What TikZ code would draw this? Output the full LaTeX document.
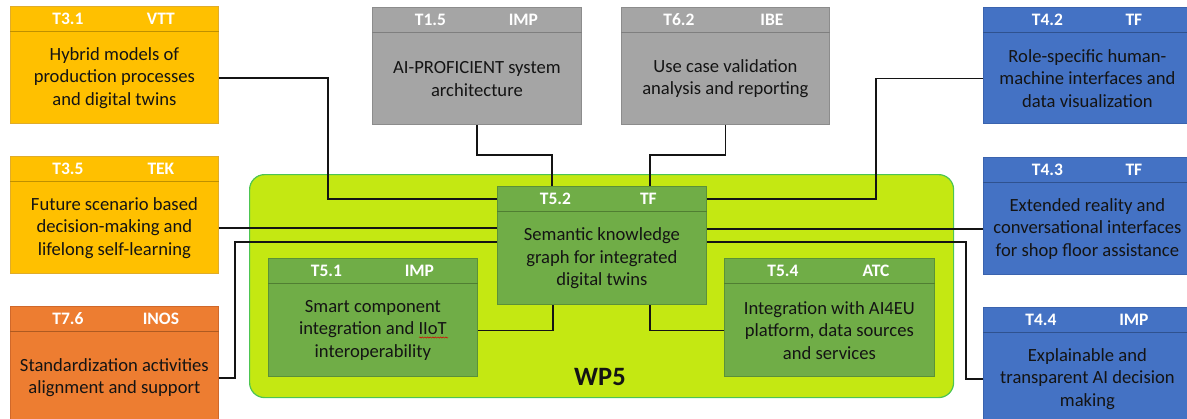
\documentclass[tikz,border=0pt]{standalone}
\usepackage{fontspec}
\setmainfont{Carlito}
\usetikzlibrary{decorations.pathmorphing}

\definecolor{yelfill}{HTML}{FFC000}
\definecolor{yeldraw}{HTML}{E0AC2A}
\definecolor{yelline}{HTML}{BF9000}
\definecolor{orgfill}{HTML}{ED7D31}
\definecolor{orgdraw}{HTML}{D0682A}
\definecolor{orgline}{HTML}{AE5A21}
\definecolor{gryfill}{HTML}{A5A5A5}
\definecolor{grydraw}{HTML}{8C8C8C}
\definecolor{gryline}{HTML}{7F7F7F}
\definecolor{blufill}{HTML}{4472C4}
\definecolor{bludraw}{HTML}{3A63AE}
\definecolor{bluline}{HTML}{2F528F}
\definecolor{grnfill}{HTML}{70AD47}
\definecolor{grndraw}{HTML}{5B9138}
\definecolor{grnline}{HTML}{507E32}
\definecolor{limefill}{HTML}{C4E812}
\definecolor{limedraw}{HTML}{4CC552}
\definecolor{ink}{HTML}{141414}

\tikzset{
  taskframe/.style={rectangle, inner sep=0pt, line width=0.8pt},
  yel/.style={fill=yelfill, draw=yeldraw},
  yelsep/.style={draw=yelline, line width=1pt},
  org/.style={fill=orgfill, draw=orgdraw},
  orgsep/.style={draw=orgline, line width=1pt},
  gry/.style={fill=gryfill, draw=grydraw},
  grysep/.style={draw=gryline, line width=1pt},
  blu/.style={fill=blufill, draw=bludraw},
  blusep/.style={draw=bluline, line width=1pt},
  grn/.style={fill=grnfill, draw=grndraw},
  grnsep/.style={draw=grnline, line width=1pt},
  headtext/.style={inner sep=0pt, text=white, font=\fontsize{17.5}{20}\selectfont\bfseries},
  bodytext/.style={inner sep=0pt, align=center, text=ink, font=\fontsize{18.6}{22.3}\selectfont},
  container/.style={rectangle, fill=limefill, draw=limedraw, line width=1.2pt, rounded corners=15pt, inner sep=0pt},
  wplabel/.style={inner sep=0pt, text=ink, font=\fontsize{26.5}{30}\selectfont\bfseries},
  conn/.style={draw=ink, line width=1.4pt},
}

% offset of the task number from the box centre
\def\idx{-46.5}
% #1 name, #2 colour style, #3 left, #4 top, #5 width, #6 height, #7 task, #8 partner, #9 title
\newcommand{\taskbox}[9]{%
  \node[taskframe,#2,minimum width=#5pt,minimum height=#6pt,anchor=north west] (#1) at (#3,#4) {};
  \draw[#2sep] ([yshift=-25.5pt]#1.north west) -- ([yshift=-25.5pt]#1.north east);
  \node[headtext] (#1-id) at ([xshift=\idx pt,yshift=-13pt]#1.north) {#7};
  \node[headtext] (#1-org) at ([xshift=46.5pt,yshift=-13pt]#1.north) {#8};
  \node[bodytext] (#1-txt) at ([yshift=-13pt]#1.center) {#9};
}

\begin{document}
\begin{tikzpicture}[x=1pt,y=-1pt]
\useasboundingbox (0,0) rectangle (1187,418);
\clip (0,0) rectangle (1187,418);

% work package frame
\node[container, minimum width=704pt, minimum height=223pt, anchor=north west] (wp5) at (249,174) {};
\node[wplabel] (wp5-label) at (600,377) {WP5};

% tasks inside WP5
\taskbox{t52}{grn}{497}{186}{209}{118}{T5.2}{TF}{Semantic knowledge\\graph for integrated\\digital twins}
\taskbox{t51}{grn}{268}{258}{209}{118}{T5.1}{IMP}{Smart component\\integration and IIoT\\interoperability}
\taskbox{t54}{grn}{724}{258}{210}{118}{T5.4}{ATC}{Integration with AI4EU\\platform, data sources\\and services}
\draw[red!85!black, line width=0.5pt, decorate, decoration={snake, amplitude=0.6pt, segment length=2.6pt}] (419,337.5) -- (448,337.5);

% tasks of other work packages
\taskbox{t31}{yel}{10}{6}{208}{117}{T3.1}{VTT}{Hybrid models of\\production processes\\and digital twins}
\taskbox{t35}{yel}{10}{156}{208}{117}{T3.5}{TEK}{Future scenario based\\decision-making and\\lifelong self-learning}
\taskbox{t76}{org}{10}{306}{208}{117}{T7.6}{INOS}{Standardization activities\\alignment and support}
\taskbox{t15}{gry}{372}{7}{209}{117}{T1.5}{IMP}{AI-PROFICIENT system\\architecture}
\taskbox{t62}{gry}{621}{7}{208}{117}{T6.2}{IBE}{Use case validation\\analysis and reporting}
\def\idx{-40}
\taskbox{t42}{blu}{983}{7}{208}{116}{T4.2}{TF}{Role-specific human-\\machine interfaces and\\data visualization}
\taskbox{t43}{blu}{983}{157}{208}{117}{T4.3}{TF}{Extended reality and\\conversational interfaces\\for shop floor assistance}
\def\idx{-46.5}
\taskbox{t44}{blu}{983}{307}{208}{117}{T4.4}{IMP}{Explainable and\\transparent AI decision\\making}

% connectors
\draw[conn] ([yshift=-13pt]t31.east) -- ++(109pt,0) |- ([yshift=-13pt]t52.north west);
\draw[conn] (t15.south) -- ++(0,30) -| ([xshift=55pt]t52.north west);
\draw[conn] (t62.south) -- ++(0,30) -| ([xshift=-57pt]t52.north east);
\draw[conn] ([yshift=-13pt]t42.west) -- ++(-107pt,0) |- ([yshift=-13pt]t52.north east);
\draw[conn] ([yshift=-13pt]t35.east) -- ([yshift=-13pt]t35.east -| t52.west);
\draw[conn] ([yshift=-13pt]t43.west) -- ([yshift=-13pt]t43.west -| t52.east);
\draw[conn] ([yshift=-13pt]t76.east) -- ++(16pt,0) |- ([yshift=-56pt]t52.north west);
\draw[conn] ([yshift=-13pt]t44.west) -- ++(-17pt,0) |- ([yshift=-56pt]t52.north east);
\draw[conn] ([yshift=-13pt]t51.east) -| ([xshift=56pt]t52.south west);
\draw[conn] ([yshift=-13pt]t54.west) -| ([xshift=-57pt]t52.south east);
\end{tikzpicture}
\end{document}
